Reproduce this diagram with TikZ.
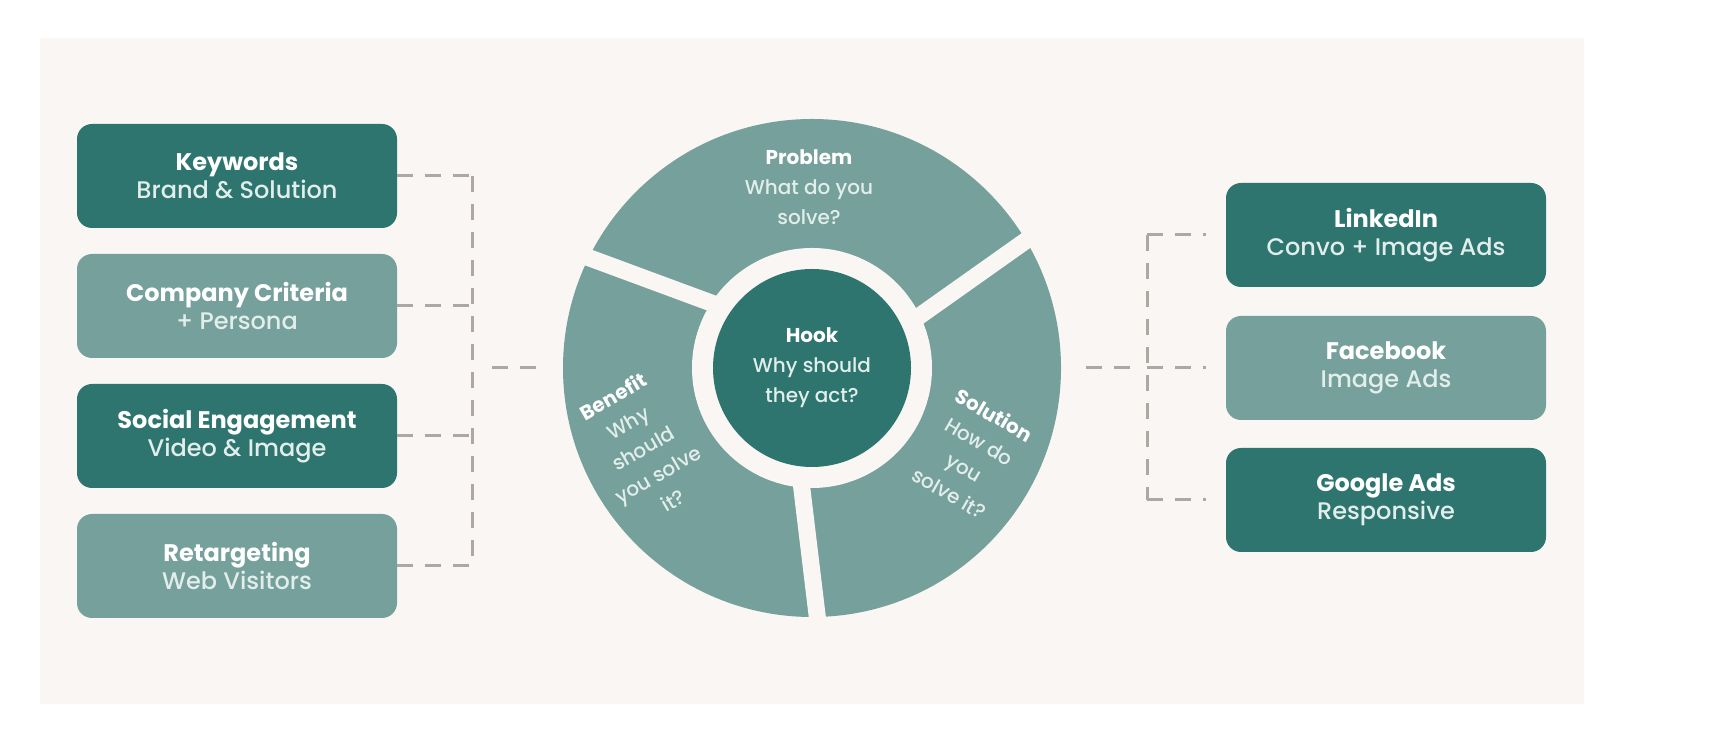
\documentclass[tikz,border=0pt]{standalone}
\usepackage{fontspec}
\setmainfont{Poppins}
\IfFontExistsTF{Poppins Medium}{\newfontfamily\subfont{Poppins Medium}}{\newfontfamily\subfont{Poppins}[FakeBold=0.4]}
\usetikzlibrary{positioning,calc}
\definecolor{deepteal}{HTML}{2E7570}
\definecolor{paleteal}{HTML}{76A09B}
\definecolor{panel}{HTML}{F9F6F3}
\definecolor{mint}{HTML}{E2EEEB}
\definecolor{dashgray}{HTML}{ADA8A4}
\newcommand{\subline}[1]{\textcolor{mint}{\subfont #1}}

\begin{document}
\begin{tikzpicture}[x=1pt, y=1pt,
  card/.style={rectangle, rounded corners=15pt, fill=#1, minimum width=320pt, minimum height=104pt, inner sep=0pt, align=center, text=white, font=\fontsize{24}{28}\selectfont},
  link/.style={dashgray, line width=3pt, dash pattern=on 16pt off 12pt},
  seglabel/.style={align=center, text=white, font=\fontsize{20}{30}\selectfont},
  gapline/.style={panel, line width=17pt}
]
  \useasboundingbox (0,0) rectangle (1710,751);
  \fill[white] (0,0) rectangle (1710,751);
  \fill[panel] (40,47) rectangle (1584,713);

  % Channels on the left
  \node[card=deepteal] (keywords) at (237,575) {\textbf{Keywords}\\\subline{Brand \& Solution}};
  \node[card=paleteal] (criteria) at (237,445) {\textbf{Company Criteria}\\\subline{+ Persona}};
  \node[card=deepteal] (social) at (237,315) {\textbf{Social Engagement}\\\subline{Video \& Image}};
  \node[card=paleteal] (retarget) at (237,185) {\textbf{Retargeting}\\\subline{Web Visitors}};

  % Message wheel
  \node[circle, fill=paleteal, minimum size=498pt, inner sep=0pt] (wheel) at (812,383) {};
  \foreach \a/\b in {25/31, 146/154, 264/271.5}
    \draw[gapline] ($(wheel.center)+(\a:110)$) -- ($(wheel.center)+(\b:262)$);
  \node[circle, fill=panel, minimum size=240pt, inner sep=0pt] (ring) at (wheel.center) {};
  \node[circle, fill=deepteal, minimum size=198pt, inner sep=0pt, seglabel] (hook) at (wheel.center) {\textbf{Hook}\\\subline{Why should}\\\subline{they act?}};
  \node[seglabel] (problem) at (809,564) {\textbf{Problem}\\\subline{What do you}\\\subline{solve?}};
  \node[seglabel, rotate=30] (benefit) at (643,303) {\textbf{Benefit}\\\subline{Why}\\\subline{should}\\\subline{you solve}\\\subline{it?}};
  \node[seglabel, rotate=-30] (solution) at (972,297) {\textbf{Solution}\\\subline{How do}\\\subline{you}\\\subline{solve it?}};

  % Channels on the right
  \node[card=deepteal] (linkedin) at (1386,516) {\textbf{LinkedIn}\\\subline{Convo + Image Ads}};
  \node[card=paleteal] (facebook) at (1386,383) {\textbf{Facebook}\\\subline{Image Ads}};
  \node[card=deepteal] (google) at (1386,251) {\textbf{Google Ads}\\\subline{Responsive}};

  % Dashed brackets
  \coordinate (jl) at (472,383);
  \draw[link] (keywords.east -| jl) -- (retarget.east -| jl);
  \foreach \n in {keywords,criteria,social,retarget}
    \draw[link] (\n.east) -- (\n.east -| jl);
  \draw[link, shorten <=20pt, shorten >=25pt] (jl) -- (wheel.west);

  \coordinate (jr) at (1147,383);
  \draw[link] (linkedin.west -| jr) -- (google.west -| jr);
  \foreach \n in {linkedin,facebook,google}
    \draw[link, shorten >=20pt] (\n.west -| jr) -- (\n.west);
  \draw[link, shorten <=25pt, shorten >=13pt] (wheel.east) -- (jr);
\end{tikzpicture}
\end{document}
